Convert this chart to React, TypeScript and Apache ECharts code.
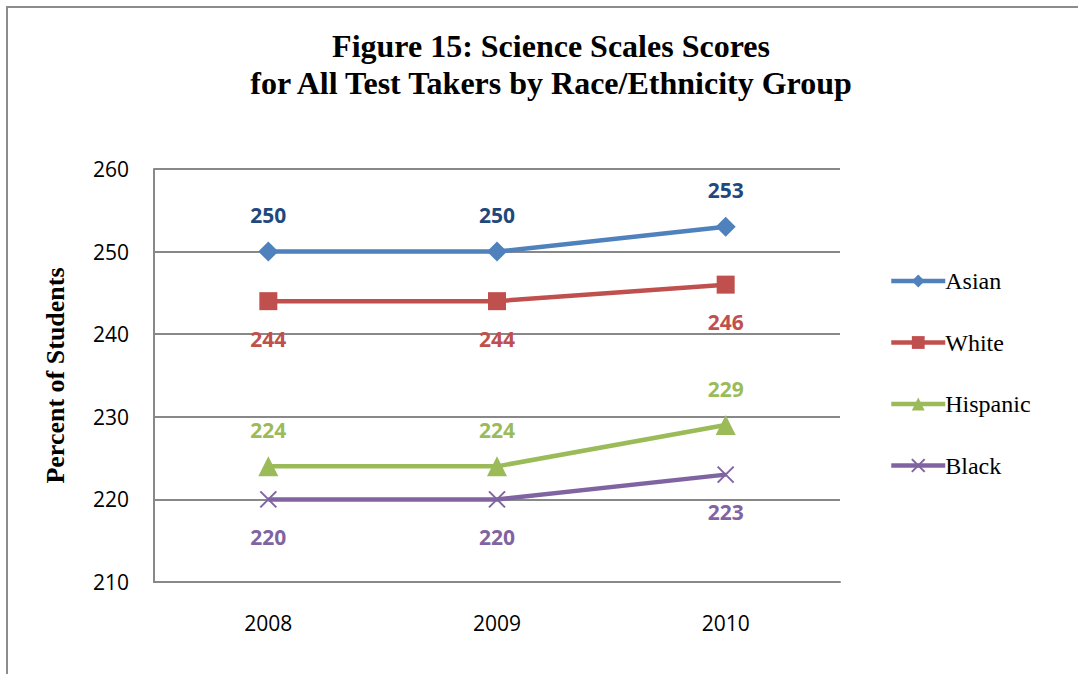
import React, { useEffect, useRef } from "react";
import * as echarts from "echarts";

const years = ["2008", "2009", "2010"];
const asian = [250, 250, 253];
const white = [244, 244, 246];
const hispanic = [224, 224, 229];
const black = [220, 220, 223];
const titleText = "Figure 15: Science Scales Scores\nfor All Test Takers by Race/Ethnicity Group";
const yAxisName = "Percent of Students";

const SERIF = "'Liberation Serif', 'Times New Roman', serif";
const SANS = "'Open Sans', 'Noto Sans', sans-serif";

export default function App() {
  const ref = useRef<HTMLDivElement>(null);
  useEffect(() => {
    if (!ref.current) return;
    const chart = echarts.init(ref.current, null, { renderer: "svg" });
    const labelStyle = (color: string, pos: string) => ({
      show: true,
      position: pos,
      distance: pos === "top" ? 16 : 18,
      color,
      fontFamily: SANS,
      fontWeight: "bold",
      fontSize: 21,
    });
    const mk = (
      name: string,
      data: number[],
      color: string,
      labelColor: string,
      symbol: string,
      size: number,
      pos: string,
      extra: any = {}
    ) => ({
      name,
      type: "line",
      data,
      symbol,
      symbolSize: size,
      showAllSymbol: true,
      lineStyle: { color, width: 4.5 },
      itemStyle: { color, borderColor: color, borderWidth: extra.bw ?? 0 },
      label: labelStyle(labelColor, pos),
      z: 2,
    });
    chart.setOption({
      animation: false,
      backgroundColor: "#ffffff",
      graphic: [
        {
          type: "rect",
          shape: { x: 7, y: 7, width: 1200, height: 800 },
          style: { fill: "none", stroke: "#8c8c8c", lineWidth: 2 },
          silent: true,
        },
      ],
      title: {
        text: titleText,
        top: 22,
        left: 546,
        textAlign: "center",
        textStyle: {
          fontFamily: SERIF,
          fontWeight: "bold",
          fontSize: 32,
          lineHeight: 37,
          color: "#000",
        },
      },
      legend: {
        orient: "vertical",
        left: 884,
        top: 264,
        itemWidth: 54,
        itemHeight: 16,
        itemGap: 37.5,
        lineStyle: { width: 4.5 },
        textStyle: { fontFamily: SERIF, fontSize: 24, color: "#000", padding: [0, 0, 0, -5] },
        data: ["Asian", "White", "Hispanic", "Black"],
      },
      grid: { left: 154, right: 238, top: 169, bottom: 92 },
      xAxis: {
        type: "category",
        data: years,
        boundaryGap: true,
        axisLine: { show: true, lineStyle: { color: "#888", width: 2 } },
        axisTick: { show: false },
        axisLabel: { fontFamily: SANS, fontSize: 21, color: "#000", margin: 30 },
      },
      yAxis: {
        type: "value",
        min: 210,
        max: 260,
        interval: 10,
        name: yAxisName,
        nameLocation: "middle",
        nameGap: 86,
        nameTextStyle: { fontFamily: SERIF, fontWeight: "bold", fontSize: 26, color: "#000" },
        axisLine: { show: true, lineStyle: { color: "#888", width: 2 } },
        axisTick: { show: false },
        splitLine: { lineStyle: { color: "#888", width: 2 } },
        axisLabel: { fontFamily: SANS, fontSize: 21, color: "#000", margin: 25 },
      },
      series: [
        mk("Asian", asian, "#4F81BD", "#1F497D", "diamond", 20, "top"),
        mk("White", white, "#C0504D", "#C0504D", "rect", 18, "bottom"),
        mk("Hispanic", hispanic, "#9BBB59", "#9BBB59", "triangle", 20, "top"),
        mk("Black", black, "#8064A2", "#8064A2", "path://M0,0L10,10M10,0L0,10", 16, "bottom", { bw: 2 }),
      ],
    });
    return () => chart.dispose();
  }, []);
  return (
    <div
      ref={ref}
      style={{ position: "fixed", left: 0, top: 0, width: 1078, height: 674, background: "#fff" }}
    />
  );
}
